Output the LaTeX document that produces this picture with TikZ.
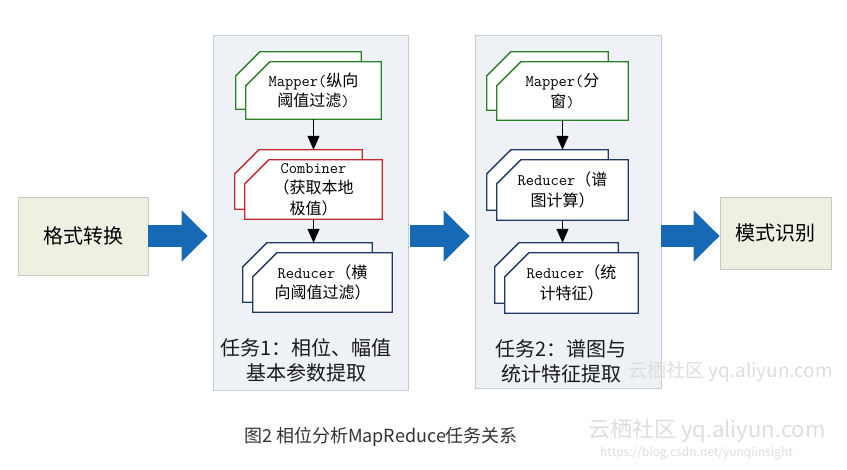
\documentclass[tikz,border=0pt]{standalone}
\usepackage{fontspec}
\setmainfont{Noto Sans CJK SC}
\usetikzlibrary{arrows.meta,calc}
\definecolor{panelfill}{RGB}{238,241,246}
\definecolor{panelline}{RGB}{200,205,213}
\definecolor{boxfill}{RGB}{238,240,226}
\definecolor{boxline}{RGB}{200,202,190}
\definecolor{flowblue}{RGB}{22,106,181}
\definecolor{mapgreen}{RGB}{40,128,40}
\definecolor{combred}{RGB}{192,40,45}
\definecolor{rednavy}{RGB}{31,56,100}
\definecolor{captxt}{RGB}{51,51,51}
\definecolor{wmark}{RGB}{222,222,222}
\newcommand\latn[1]{{\ttfamily #1}}
\newcommand\jobstack[2]{%
  \draw[#2, fill=white, line width=1.3pt]
    ([shift={(-10,-10)}]#1.south west) -- ([shift={(-10,14)}]#1.north west)
    -- ([shift={(14,-10)}]#1.north west) -- ([shift={(-20,-10)}]#1.north east)
    -- ([shift={(-20,-10)}]#1.south east) -- cycle;
  \draw[#2, fill=white, line width=1.3pt]
    (#1.south west) -- ([shift={(0,24)}]#1.north west)
    -- ([shift={(24,0)}]#1.north west) -- (#1.north east)
    -- (#1.south east) -- cycle;
  \coordinate (#1-top) at ([shift={(0,-10)}]#1.north);
}
\begin{document}
\begin{tikzpicture}[x=1pt,y=-1pt,
  panel/.style={draw=panelline, fill=panelfill, line width=0.8pt, inner sep=0pt},
  endbox/.style={draw=boxline, fill=boxfill, line width=0.8pt, inner sep=0pt,
    font=\fontsize{20}{24}\selectfont},
  job/.style={inner sep=0pt, align=center, font=\fontsize{16}{20.5}\selectfont},
  tasklbl/.style={inner sep=0pt, align=center, text=black!90,
    font=\fontsize{20}{25}\selectfont},
  bigarrow/.style={draw=flowblue, line width=22pt, -{Triangle[length=26pt,width=50pt]}},
  flow/.style={line width=1.2pt, -{Triangle[length=14pt,width=12pt]}},
  wmtext/.style={inner sep=0pt, text=wmark, anchor=west}]
\useasboundingbox (0,0) rectangle (847,470);
\fill[white] (0,0) rectangle (847,470);

% panels
\node[panel, minimum width=195pt, minimum height=355pt] (p1) at (310.5,212.5) {};
\node[panel, minimum width=186pt, minimum height=353pt] (p2) at (568,211.5) {};

% end boxes
\node[endbox, minimum width=130pt, minimum height=78pt] (fmt) at (83,236) {格式转换};
\node[endbox, minimum width=111pt, minimum height=72pt] (mode) at (775.5,233) {模式识别};

% task 1
\node[job, minimum width=135pt, minimum height=57pt] (m1) at (313.5,90.5) {};
\jobstack{m1}{draw=mapgreen}
\node[job] at (m1) {\latn{Mapper(}纵向\\阈值过滤\latn{)}};
\node[job, minimum width=137pt, minimum height=59pt] (c1) at (313.5,189.5) {};
\jobstack{c1}{draw=combred}
\node[job] at (c1) {\latn{Combiner}\\（获取本地\\极值）};
\node[job, minimum width=139pt, minimum height=59pt] (r1) at (322.5,282.5) {};
\jobstack{r1}{draw=rednavy}
\node[job] at (r1) {\latn{Reducer}（横\\向阈值过滤）};
\node[tasklbl] (t1) at (306,360.5) {任务1：相位、幅值\\基本参数提取};

% task 2
\node[job, minimum width=131pt, minimum height=58pt] (m2) at (562.5,91) {};
\jobstack{m2}{draw=mapgreen}
\node[job] at (m2) {\latn{Mapper(}分\\窗\latn{)}};
\node[job, minimum width=131pt, minimum height=60pt] (r2) at (562.5,190) {};
\jobstack{r2}{draw=rednavy}
\node[job] at (r2) {\latn{Reducer}（谱\\图计算）};
\node[job, minimum width=133pt, minimum height=60pt] (r3) at (571.5,283) {};
\jobstack{r3}{draw=rednavy}
\node[job] at (r3) {\latn{Reducer}（统\\计特征）};
\node[tasklbl] (t2) at (561,361.5) {任务2：谱图与\\统计特征提取};

% inner flows
\draw[flow] (m1.south) -- (m1.south |- c1-top);
\draw[flow] (c1.south) -- (c1.south |- r1-top);
\draw[flow] (m2.south) -- (m2.south |- r2-top);
\draw[flow] (r2.south) -- (r2.south |- r3-top);

% big arrows
\draw[bigarrow] (fmt.east) -- ($(p1.west |- fmt.east)+(-5,0)$);
\draw[bigarrow] ($(p1.east |- fmt.east)+(2,0)$) -- ($(p2.west |- fmt.east)+(-5,0)$);
\draw[bigarrow] (p2.east |- fmt.east) -- (mode.west |- fmt.east);

% caption
\node[inner sep=0pt, text=captxt, font=\fontsize{18}{20}\selectfont] (cap) at (381,437) {图2 相位分析MapReduce任务关系};

% watermarks
\node[wmtext, font=\fontsize{19}{21}\selectfont] (wm1) at (628,372) {云栖社区 yq.aliyun.com};
\node[wmtext, font=\fontsize{22}{24}\selectfont] (wm2) at (588,431) {云栖社区 yq.aliyun.com};
\node[wmtext, font=\fontsize{12}{14}\selectfont] (wm3) at (600,453) {https://blog.csdn.net/yunqiinsight};
\end{tikzpicture}
\end{document}
